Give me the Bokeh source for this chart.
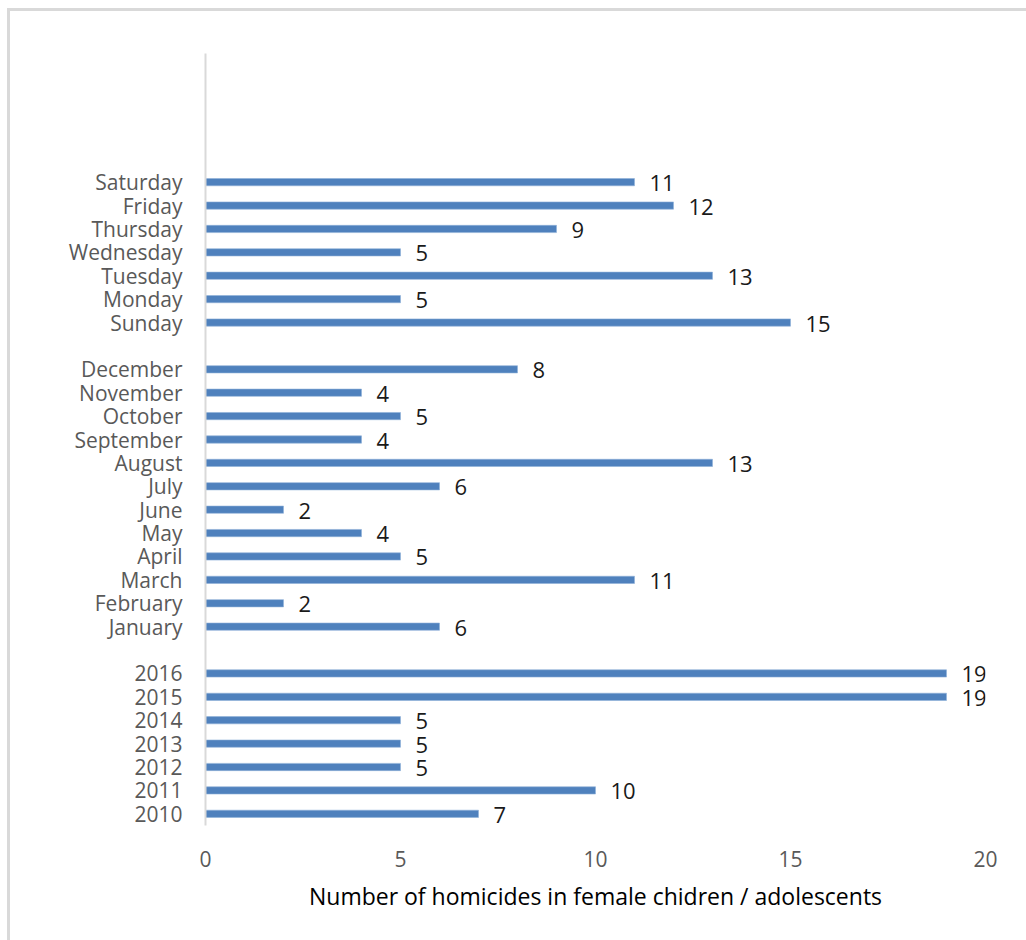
from bokeh.plotting import figure
from bokeh.models import FixedTicker, ColumnDataSource
from bokeh.core.properties import value
from bokeh.embed import file_html
from bokeh.resources import INLINE

# Homicides in female children / adolescents, by year, month and weekday
years = ["2010", "2011", "2012", "2013", "2014", "2015", "2016"]
year_counts = [7, 10, 5, 5, 5, 19, 19]

months = ["January", "February", "March", "April", "May", "June", "July",
          "August", "September", "October", "November", "December"]
month_counts = [6, 2, 11, 5, 4, 2, 6, 13, 4, 5, 4, 8]

days = ["Sunday", "Monday", "Tuesday", "Wednesday", "Thursday", "Friday", "Saturday"]
day_counts = [15, 5, 13, 5, 9, 12, 11]

x_ticks = [0, 5, 10, 15, 20]

# stack the three groups bottom-to-top with one empty row between groups
names, counts, rows = [], [], []
r = 0
for group_names, group_counts in ((years, year_counts), (months, month_counts), (days, day_counts)):
    for n, c in zip(group_names, group_counts):
        names.append(n)
        counts.append(c)
        rows.append(r)
        r += 1
    r += 1
top_row = rows[-1] + 5.5  # empty rows kept above the weekdays

src = ColumnDataSource(dict(name=names, count=counts, row=rows,
                            label=[str(c) for c in counts]))

FONT = "Open Sans"
EDGE = "#d9d9d9"
W, H = 1026, 940

p = figure(width=W, height=H, x_range=(0, 20), y_range=(-0.5, top_row),
           output_backend="svg", toolbar_location=None,
           min_border_left=205, min_border_right=41,
           min_border_top=53, min_border_bottom=115)
p.outline_line_color = None
p.background_fill_color = "white"
p.border_fill_alpha = 0
p.xgrid.grid_line_color = None
p.ygrid.grid_line_color = None

# chart box: thin light edges along its top and left, painted behind the canvas
p.styles = {
    "background": (
        f"linear-gradient({EDGE}, {EDGE}) 7px 8px / {W - 7}px 3px no-repeat, "
        f"linear-gradient({EDGE}, {EDGE}) 7px 8px / 3px {H - 8}px no-repeat, "
        "white"
    )
}

p.hbar(y="row", left=0, right="count", height=0.31, source=src,
       fill_color="#4F81BD", line_color="#8FB0D8", line_width=0.6)

p.text(x="count", y="row", text="label", source=src,
       x_offset=15, y_offset=1, text_baseline="middle", text_align="left",
       text_font=value(FONT), text_font_size="22px", text_color="#1a1a1a")

# category axis
yax = p.yaxis[0]
yax.ticker = FixedTicker(ticks=rows)
yax.major_label_overrides = {k: n for k, n in zip(rows, names)}
yax.axis_line_color = EDGE
yax.axis_line_width = 2
yax.major_tick_line_color = None
yax.minor_tick_line_color = None
yax.major_label_standoff = 17
yax.major_label_text_font = FONT
yax.major_label_text_font_size = "21px"
yax.major_label_text_color = "#595959"

# value axis
xax = p.xaxis[0]
xax.ticker = FixedTicker(ticks=x_ticks)
xax.axis_line_color = None
xax.major_tick_line_color = None
xax.minor_tick_line_color = None
xax.major_label_standoff = 19
xax.major_label_text_font = FONT
xax.major_label_text_font_size = "21px"
xax.major_label_text_color = "#595959"
xax.axis_label = "Number of homicides in female chidren / adolescents"
xax.axis_label_standoff = 10
xax.axis_label_text_font = FONT
xax.axis_label_text_font_size = "23px"
xax.axis_label_text_font_style = "normal"
xax.axis_label_text_color = "#000000"

open("out.html", "w").write(file_html(p, INLINE))
